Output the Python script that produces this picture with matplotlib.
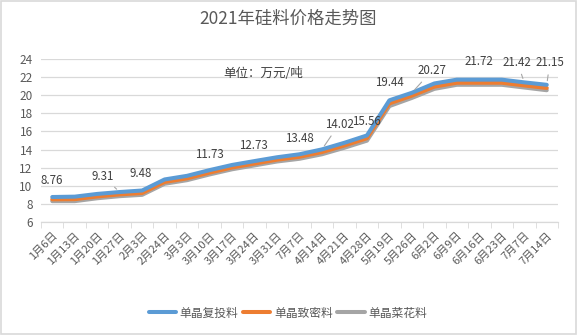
import matplotlib
matplotlib.use("Agg")
import matplotlib.pyplot as plt
from matplotlib.patches import Rectangle

plt.rcParams['font.family'] = ['Noto Sans CJK SC', 'DejaVu Sans']

categories = ["1月6日", "1月13日", "1月20日", "1月27日", "2月3日", "2月24日", "3月3日",
              "3月10日", "3月17日", "3月24日", "3月31日", "7月7日", "4月14日", "4月21日",
              "4月28日", "5月19日", "5月26日", "6月2日", "6月9日", "6月16日", "6月23日",
              "7月7日", "7月14日"]

fu_tou = [8.76, 8.80, 9.10, 9.31, 9.48, 10.70, 11.10, 11.73, 12.30, 12.73, 13.15, 13.48,
          14.02, 14.75, 15.56, 19.44, 20.27, 21.30, 21.72, 21.72, 21.72, 21.42, 21.15]
zhi_mi = [8.50, 8.52, 8.82, 9.05, 9.20, 10.42, 10.82, 11.45, 12.02, 12.45, 12.88, 13.20,
          13.72, 14.45, 15.25, 19.10, 19.95, 20.95, 21.38, 21.38, 21.38, 21.08, 20.80]
cai_hua = [8.30, 8.30, 8.62, 8.85, 9.00, 10.22, 10.62, 11.25, 11.82, 12.25, 12.68, 12.98,
           13.48, 14.20, 14.98, 18.80, 19.70, 20.70, 21.15, 21.15, 21.15, 20.85, 20.55]

# labels on the top series: index -> (dx, dy) pixel offset of label, leader line flag
label_idx = [0, 3, 4, 7, 9, 11, 12, 14, 15, 16, 19, 21, 22]
label_off = [(0, 17), (-17, 16), (-1, 17), (0, 16), (-1, 16), (0, 16), (17, 25), (0, 14),
             (0, 18), (20, 22), (0, 18), (-7, 20), (3, 22)]
leader = [False, True, False, False, False, False, True, False, False, True, False, True, True]

series = [("单晶复投料", fu_tou, "#5B9BD5"),
          ("单晶致密料", zhi_mi, "#ED7D31"),
          ("单晶菜花料", cai_hua, "#A5A5A5")]

fig = plt.figure(figsize=(5.77, 3.35), dpi=100)
fig.patches.append(Rectangle((0.0015, 0.0025), 0.997, 0.995, transform=fig.transFigure,
                             fill=False, edgecolor="#D9D9D9", linewidth=1.2))
ax = fig.add_axes([41/577, 1-222/335, (558-41)/577, (222-59)/335])

x = list(range(len(categories)))
for name, vals, col in reversed(series):
    ax.plot(x, vals, color=col, linewidth=2.9, label=name, solid_capstyle='round', zorder=3)

for i, (dx, dy), ld in zip(label_idx, label_off, leader):
    kw = {}
    if ld:
        kw['arrowprops'] = dict(arrowstyle='-', color='#A6A6A6', lw=0.8, shrinkA=2, shrinkB=3)
    ax.annotate(f"{fu_tou[i]:.2f}", xy=(i, fu_tou[i]), xytext=(dx, dy),
                textcoords='offset pixels', ha='center', va='center',
                fontsize=8.3, color='#404040', zorder=5, **kw)

ax.text(0.43, 0.91, "单位：万元/吨", transform=ax.transAxes, ha='center', va='center',
        fontsize=9, color='#404040')

ax.set_ylim(6, 24)
ax.set_yticks(range(6, 25, 2))
ax.set_xlim(-0.5, len(categories) - 0.5)
ax.set_xticks(x)
ax.set_xticklabels(categories, rotation=45, ha='right', rotation_mode='anchor',
                   fontsize=8, color='#595959')
ax.set_xticks([i - 0.5 for i in range(len(categories) + 1)], minor=True)
ax.tick_params(axis='x', which='major', length=0, pad=6)
ax.tick_params(axis='x', which='minor', length=4, color='#D9D9D9')
ax.tick_params(axis='y', length=0, labelsize=8.5, labelcolor='#595959', pad=6)
ax.grid(axis='y', color='#D9D9D9', linewidth=0.9)
ax.set_axisbelow(True)
for s in ['top', 'right', 'left']:
    ax.spines[s].set_visible(False)
ax.spines['bottom'].set_color('#D9D9D9')
ax.spines['bottom'].set_linewidth(0.9)

fig.text(0.5, 1-19/335, "2021年硅料价格走势图", ha='center', va='center',
         fontsize=12.5, color='#595959')

handles, labels = ax.get_legend_handles_labels()
fig.legend(handles[::-1], labels[::-1], loc='center', bbox_to_anchor=(288/577, 1-313/335),
           ncol=3, frameon=False, fontsize=8.5, handlelength=2.3, handletextpad=0.3,
           columnspacing=0.4, labelcolor='#595959')

fig.savefig("out.png", dpi=100)
